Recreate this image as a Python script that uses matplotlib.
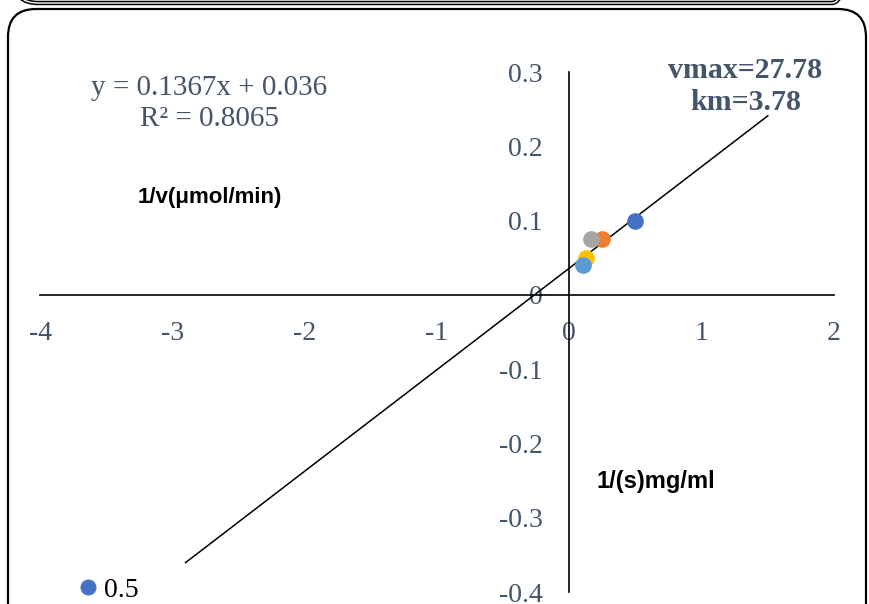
import numpy as np
import matplotlib.pyplot as plt
from matplotlib.patches import FancyBboxPatch
from matplotlib.lines import Line2D

# Lineweaver-Burk: 1/s против 1/v
inv_s = [0.5, 0.25, 0.167, 0.125, 0.1]
inv_v = [0.1, 0.075, 0.075, 0.05, 0.04]
labels = ['0.5', '0.25', '0.167', '0.125', '0.1']
colors = ['#4472C4', '#ED7D31', '#A5A5A5', '#FFC000', '#5B9BD5']

slope, intercept = 0.1367, 0.036
trend_from, trend_to = -2.9, 1.5
x_ticks = [-4, -3, -2, -1, 0, 1, 2]
y_ticks = [-0.4, -0.3, -0.2, -0.1, 0, 0.1, 0.2, 0.3]

txt = '#44546A'
W, H = 870, 604
fig = plt.figure(figsize=(W / 100, H / 100), dpi=100)

# рамка (в пикселях)
bg = fig.add_axes([0, 0, 1, 1], zorder=0)
bg.set_xlim(0, W)
bg.set_ylim(H, 0)
bg.axis('off')
bg.add_patch(FancyBboxPatch((14, -200), 842, 203, boxstyle='round,pad=0,rounding_size=24',
                            fill=False, ec='black', lw=3.2))
bg.add_patch(FancyBboxPatch((14, -200), 842, 203, boxstyle='round,pad=0,rounding_size=24',
                            fill=False, ec='white', lw=1.0))
bg.add_patch(FancyBboxPatch((8, 9), 858, 640, boxstyle='round,pad=0,rounding_size=28',
                            fill=False, ec='black', lw=1.6))

ax = fig.add_axes([40 / W, 1 - 592 / H, (834 - 40) / W, (592 - 72) / H], zorder=1)
ax.patch.set_visible(False)
ax.set_xlim(-4, 2)
ax.set_ylim(-0.4, 0.3)

for s in ['top', 'right']:
    ax.spines[s].set_visible(False)
ax.spines['left'].set_position(('data', 0))
ax.spines['bottom'].set_position(('data', 0))
ax.spines['left'].set_linewidth(1.2)
ax.spines['bottom'].set_linewidth(1.2)

ax.set_xticks(x_ticks)
ax.set_yticks(y_ticks)
ax.set_xticklabels([f'{v:g}' for v in x_ticks])
ax.set_yticklabels(['-0.4', '-0.3', '-0.2', '-0.1', '0', '0.1', '0.2', '0.3'])
ax.tick_params(length=0, labelsize=20, labelcolor=txt)
ax.tick_params(axis='x', pad=19)
ax.tick_params(axis='y', pad=19)
for lab in ax.get_xticklabels() + ax.get_yticklabels():
    lab.set_fontfamily('Liberation Serif')

xs = np.array([trend_from, trend_to])
ax.plot(xs, slope * xs + intercept, color='black', lw=1.1, zorder=2)

for x, y, c, l in zip(inv_s, inv_v, colors, labels):
    ax.plot(x, y, 'o', ms=11, color=c, label=l, zorder=3, clip_on=False)

ax.text(-2.72, 0.257, 'y = 0.1367x + 0.036\nR² = 0.8065', ha='center', va='center',
        fontsize=21, color=txt, family='Liberation Serif', linespacing=1.25)
ax.text(-2.72, 0.131, '1/v(μmol/min)', ha='center', va='center', fontsize=16,
        fontweight='bold', family='Liberation Sans')
ax.text(0.655, -0.251, '1/(s)mg/ml', ha='center', va='center', fontsize=17,
        fontweight='bold', family='Liberation Sans')
ax.text(1.33, 0.302, 'vmax=27.78', ha='center', va='center', fontsize=21.5,
        fontweight='bold', color=txt, family='Liberation Serif')
ax.text(1.335, 0.259, 'km=3.78', ha='center', va='center', fontsize=21.5,
        fontweight='bold', color=txt, family='Liberation Serif')

h = [Line2D([], [], marker='o', ls='', ms=10.5, color=colors[0])]
fig.legend(h, [labels[0]], loc='center left', bbox_to_anchor=(46 / W, 1 - 590 / H),
           frameon=False, handletextpad=0.0, handlelength=1.2,
           prop={'family': 'Liberation Serif', 'size': 20})

fig.savefig('out.png', dpi=100)
